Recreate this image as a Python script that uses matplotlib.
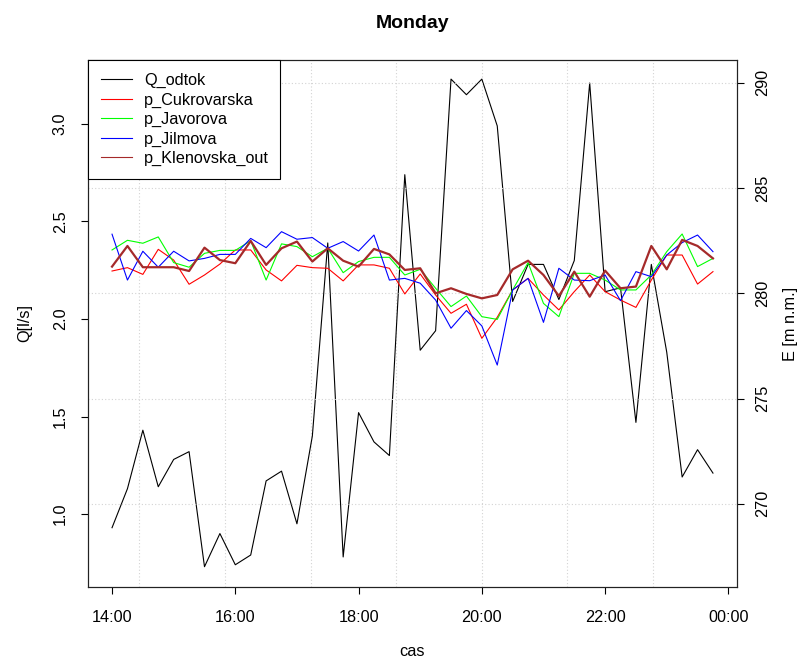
import numpy as np
import matplotlib.pyplot as plt
from matplotlib.lines import Line2D

plt.rcParams['font.family'] = ['Liberation Sans', 'DejaVu Sans']

# sample times (15 min step)
times = ["14:00", "14:15", "14:30", "14:45", "15:00", "15:15", "15:30", "15:45",
         "16:00", "16:15", "16:30", "16:45", "17:00", "17:15", "17:30", "17:45",
         "18:00", "18:15", "18:30", "18:45", "19:00", "19:15", "19:30", "19:45",
         "20:00", "20:15", "20:30", "20:45", "21:00", "21:15", "21:30", "21:45",
         "22:00", "22:15", "22:30", "22:45", "23:00", "23:15", "23:30", "23:45"]

# outflow Q [l/s]
q_odtok = [0.93, 1.13, 1.43, 1.14, 1.28, 1.32, 0.73, 0.90, 0.74, 0.79,
           1.17, 1.22, 0.95, 1.40, 2.39, 0.78, 1.52, 1.37, 1.30, 2.74,
           1.84, 1.94, 3.23, 3.15, 3.23, 2.99, 2.09, 2.28, 2.28, 2.10,
           2.30, 3.21, 2.14, 2.16, 1.47, 2.28, 1.83, 1.19, 1.33, 1.21]

# pressure heads E [m n.m.]
p_cukrovarska = [281.06, 281.22, 280.90, 282.09, 281.58, 280.43, 280.87, 281.39, 282.06, 282.06,
                 281.11, 280.59, 281.33, 281.22, 281.19, 280.59, 281.35, 281.35, 281.19, 279.97,
                 280.92, 279.92, 279.05, 279.48, 277.86, 278.86, 280.16, 280.71, 279.92, 279.21,
                 280.08, 280.87, 280.08, 279.68, 279.33, 280.63, 281.82, 281.82, 280.44, 281.03]
p_javorova = [282.06, 282.52, 282.38, 282.68, 281.46, 281.24, 281.90, 282.04, 282.04, 282.50,
              280.63, 282.35, 282.22, 281.74, 282.14, 280.98, 281.51, 281.71, 281.71, 280.87,
              281.14, 280.24, 279.37, 279.87, 278.89, 278.76, 280.16, 281.46, 279.52, 278.89,
              280.95, 280.95, 280.63, 280.16, 280.16, 280.87, 281.98, 282.82, 281.27, 281.66]
p_jilmova = [282.81, 280.63, 282.00, 281.24, 282.00, 281.54, 281.66, 281.85, 281.85, 282.61,
             282.17, 282.93, 282.57, 282.65, 282.14, 282.46, 282.01, 282.77, 280.63, 280.71,
             280.48, 279.68, 278.34, 279.18, 278.45, 276.59, 280.16, 280.71, 278.62, 281.19,
             280.63, 280.60, 280.87, 279.65, 281.03, 280.79, 281.82, 282.41, 282.77, 281.98]
p_klenovska_out = [281.27, 282.25, 281.24, 281.24, 281.24, 281.06, 282.17, 281.58, 281.43, 282.49,
                   281.35, 282.14, 282.46, 281.51, 282.14, 281.55, 281.27, 282.11, 281.85, 281.11,
                   281.19, 280.00, 280.24, 279.97, 279.76, 279.92, 281.14, 281.55, 280.87, 279.87,
                   281.03, 279.84, 281.08, 280.24, 280.32, 282.25, 281.14, 282.54, 282.25, 281.66]

x_ticks = [14, 16, 18, 20, 22, 24]
x_labels = ["14:00", "16:00", "18:00", "20:00", "22:00", "00:00"]
q_ticks = [1.0, 1.5, 2.0, 2.5, 3.0]
e_ticks = [270, 275, 280, 285, 290]

x = [int(t[:2]) + int(t[3:]) / 60 for t in times]

fs = 11.7

fig = plt.figure(figsize=(8.01, 6.66), dpi=100)
ax = fig.add_axes([88 / 801, 1 - 587 / 666, (737 - 88) / 801, (587 - 60) / 666])

# vertical grid every 5000 s, as R's grid() does on a POSIXct axis
grid_x = [20 + k * 5000 / 3600 for k in range(-4, 3)]
for gx in grid_x:
    ax.axvline(gx, color='lightgray', lw=0.8, ls=(0, (1, 2)), zorder=0)

ax.plot(x, q_odtok, color='black', lw=0.8)
ax.set_xlim(13.61, 24.14)
ax.set_ylim(0.626, 3.328)
ax.set_xticks(x_ticks, x_labels)
ax.set_yticks(q_ticks, ["%.1f" % v for v in q_ticks])
ax.tick_params(direction='out', length=5, width=0.8, labelsize=fs)
ax.tick_params(axis='x', pad=11.5)
ax.tick_params(axis='y', pad=9.5, labelrotation=90)
for lab in ax.get_yticklabels():
    lab.set_va('center')
ax.set_ylabel('Q[l/s]', fontsize=fs, labelpad=15)
ax.set_xlabel('cas', fontsize=fs, labelpad=14)
ax.set_title('Monday', fontsize=14, fontweight='bold', pad=23)

ax2 = ax.twinx()
for gy in e_ticks:
    ax2.axhline(gy, color='lightgray', lw=0.8, ls=(0, (1, 2)), zorder=0)
ax2.plot(x, p_cukrovarska, color='#ff0000', lw=0.8)
ax2.plot(x, p_javorova, color='#00ff00', lw=0.8)
ax2.plot(x, p_jilmova, color='#0000ff', lw=0.8)
ax2.plot(x, p_klenovska_out, color='#a52a2a', lw=1.6)
ax2.set_ylim(266.04, 291.09)
ax2.set_yticks(e_ticks, [str(v) for v in e_ticks])
ax2.tick_params(direction='out', length=5, width=0.8, labelsize=fs, pad=8, labelrotation=90)
for lab in ax2.get_yticklabels():
    lab.set_va('center')
ax2.set_ylabel('E [m n.m.]', fontsize=fs, labelpad=9)

for a in (ax, ax2):
    for s in a.spines.values():
        s.set_linewidth(0.8)
        s.set_color('#222222')

names = ['Q_odtok', 'p_Cukrovarska', 'p_Javorova', 'p_Jilmova', 'p_Klenovska_out']
colors = ['black', '#ff0000', '#00ff00', '#0000ff', '#a52a2a']
handles = [Line2D([], [], color=c, lw=0.8) for c in colors]
leg = ax2.legend(handles, names, loc='upper left', bbox_to_anchor=(0, 0, 0.2952, 1),
                 mode='expand', borderaxespad=0, fancybox=False, framealpha=1,
                 edgecolor='black', fontsize=fs, handlelength=1.9, handletextpad=0.75,
                 labelspacing=0.27, borderpad=0.8)
leg.get_frame().set_linewidth(0.8)

fig.savefig('out.png', dpi=100)
